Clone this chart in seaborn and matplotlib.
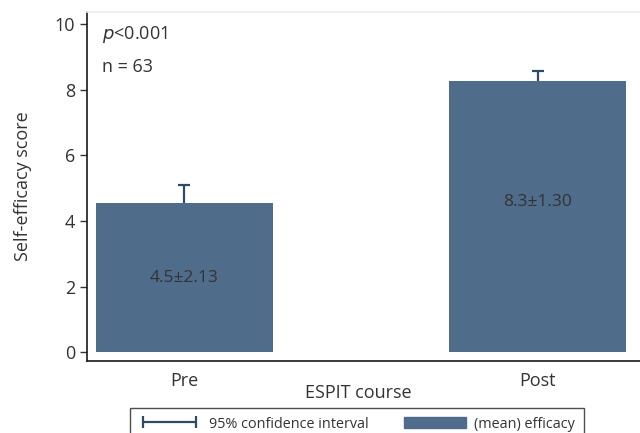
import seaborn as sns
import matplotlib.pyplot as plt
from matplotlib.lines import Line2D
from matplotlib.patches import Patch

groups = ["Pre", "Post"]
means = [4.54, 8.26]
ci_upper = [0.55, 0.31]
labels = ["4.5±2.13", "8.3±1.30"]
label_y = [2.26, 4.57]

bar_color = "#4f6d8b"
err_color = "#2e4a66"
text_color = "#333333"

sns.set_theme(style="ticks")
plt.rcParams['font.family'] = ['Open Sans', 'DejaVu Sans']

fig = plt.figure(figsize=(6.4, 4.33), dpi=100)
ax = fig.add_axes([0.136, 0.166, 0.864, 0.806])

sns.barplot(x=groups, y=means, color=bar_color, saturation=1, width=0.5,
            errorbar=None, linewidth=0, ax=ax)
eb = ax.errorbar(range(len(groups)), means, yerr=[[0] * len(groups), ci_upper],
                 fmt='none', ecolor=err_color, elinewidth=1.6, capsize=4.5, capthick=1.6)
# only the upper cap is drawn in the original
eb[1][0].set_visible(False)

for i, (lab, yy) in enumerate(zip(labels, label_y)):
    ax.text(i, yy, lab, ha='center', va='center', fontsize=12.5, color=text_color)

ax.text(0.027, 0.937, r"$\it{p}$<0.001", transform=ax.transAxes, fontsize=13,
        color=text_color, va='center')
ax.text(0.027, 0.842, "n = 63", transform=ax.transAxes, fontsize=13,
        color=text_color, va='center')

ax.set_ylim(-0.27, 10.37)
ax.set_xlim(-0.275, 1.29)
ax.set_yticks([0, 2, 4, 6, 8, 10])
ax.tick_params(axis='y', labelsize=13, colors=text_color, length=5, width=1)
ax.tick_params(axis='x', labelsize=13, colors=text_color, length=0, pad=8)
ax.set_ylabel("Self-efficacy score", fontsize=13, color=text_color)
ax.set_xlabel("ESPIT course", fontsize=13, color=text_color)
ax.xaxis.set_label_coords(0.49, -0.065)
ax.yaxis.set_label_coords(-0.1, 0.5)

ax.spines['top'].set_color('#eeeeee')
ax.spines['right'].set_visible(False)
ax.spines['left'].set_color('#222222')
ax.spines['bottom'].set_color('#222222')

handles = [Line2D([0], [0], color=err_color, lw=1.6, marker='|', markersize=9,
                  markeredgewidth=1.6),
           Patch(facecolor=bar_color, edgecolor=bar_color)]
leg = fig.legend(handles, ["95% confidence interval", "(mean) efficacy"],
                 loc='upper left', bbox_to_anchor=(0.203, 0.058), ncol=2,
                 fontsize=10.4, frameon=True, fancybox=False, numpoints=2,
                 handlelength=4.3, handletextpad=0.6, columnspacing=2.4,
                 borderpad=0.6, borderaxespad=0)
leg.get_frame().set_edgecolor('#222222')
leg.get_frame().set_linewidth(1)
for t in leg.get_texts():
    t.set_color(text_color)

fig.savefig("out.png", dpi=100)
